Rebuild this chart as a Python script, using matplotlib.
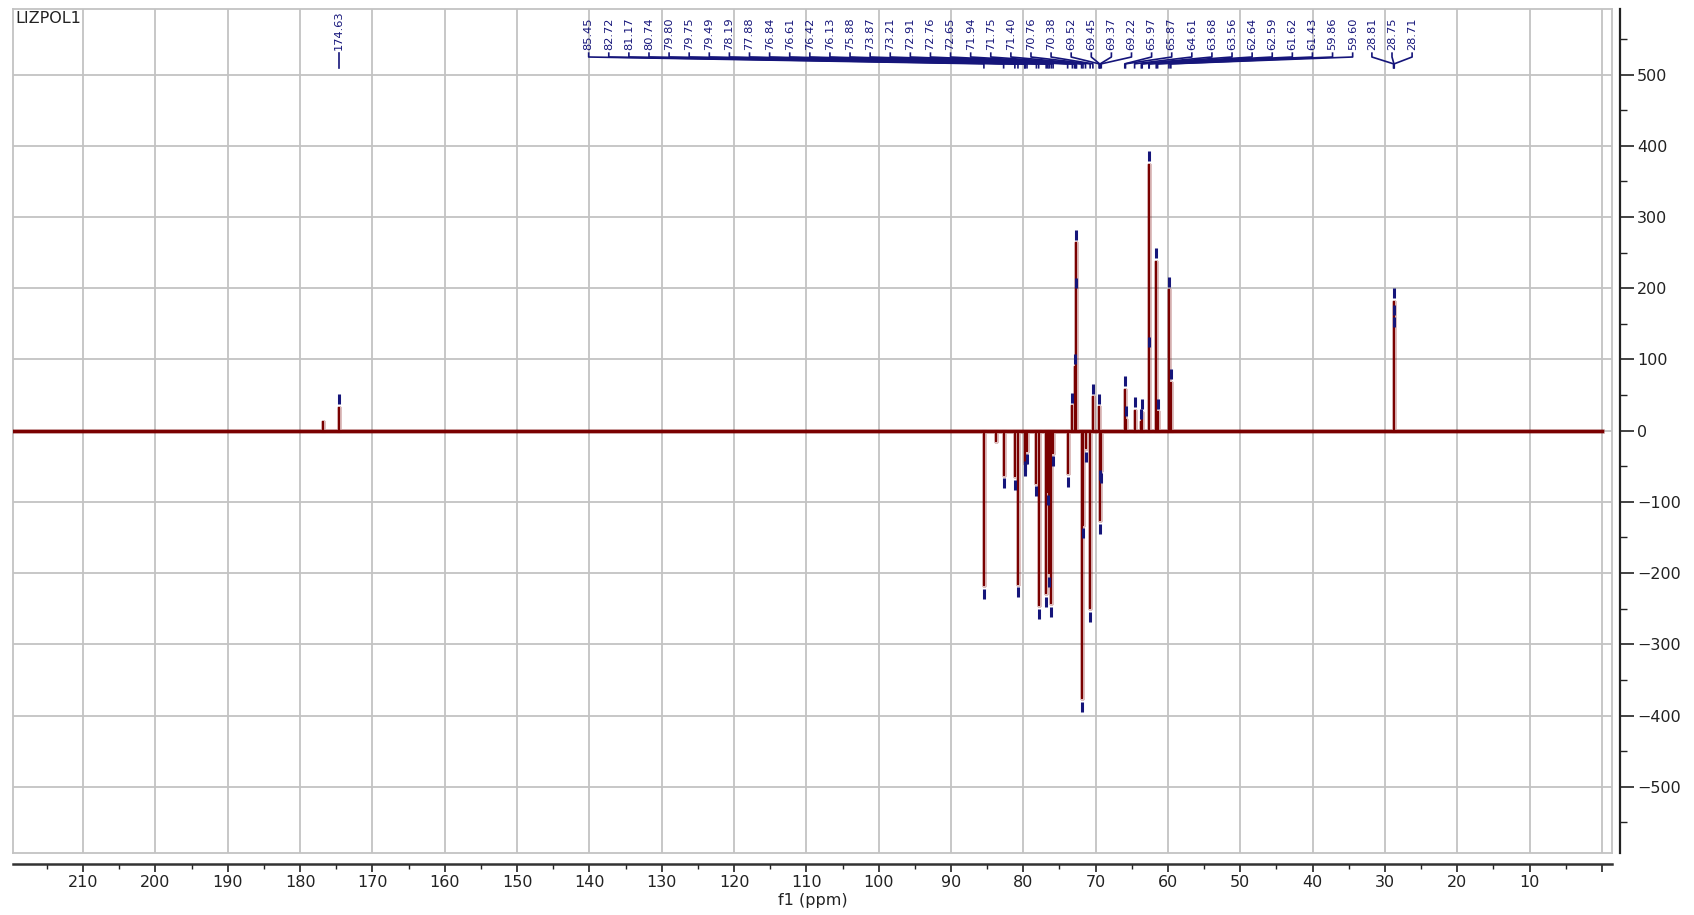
import numpy as np
import matplotlib
matplotlib.use("Agg")
from matplotlib import pyplot as plt
from matplotlib.ticker import MultipleLocator

plt.rcParams["font.family"] = ["DejaVu Sans"]

sample_name = "LIZPOL1"
x_title = "f1 (ppm)"

# spectral window (ppm)
spec_left = 219.7
spec_right = 0.0

# picked peaks (ppm) and their intensities
peak_ppm = [174.63,
            85.45, 82.72, 81.17, 80.74, 79.80, 79.75, 79.49, 78.19, 77.88, 76.84,
            76.61, 76.42, 76.13, 75.88, 73.87, 73.21, 72.91, 72.76, 72.65, 71.94,
            71.75, 71.40, 70.76, 70.38, 69.52, 69.45, 69.37, 69.22, 65.97, 65.87,
            64.61, 63.68, 63.56, 62.64, 62.59, 61.62, 61.43, 59.86, 59.60,
            28.81, 28.75, 28.71]
peak_int = [32,
            -217, -62, -64, -215, -38, -45, -28, -73, -245, -228,
            -86, -200, -242, -31, -60, 34, 89, 263, 195, -376,
            -132, -25, -249, 47, 33, -50, -126, -55, 57, 15,
            28, 12, 25, 373, 113, 237, 26, 197, 67,
            157, 181, 140]

# small unlabelled signals
minor_ppm = [176.9, 83.8]
minor_int = [12, -15]

# how the peak labels are grouped at the top
label_groups = [1, 39, 3]

x_ticks = list(range(0, 220, 10))
y_ticks = list(range(-500, 600, 100))

red = "#7a0000"
navy = "#15157a"
grid_grey = "#c3c3c3"

fig = plt.figure(figsize=(16.94, 9.15), dpi=100)
ax = fig.add_axes([13 / 1694, 1 - 853 / 915, (1612 - 13) / 1694, (853 - 9) / 915])

# spectrum drawn as sticks on the baseline
pts = sorted(zip(peak_ppm + minor_ppm, peak_int + minor_int), key=lambda p: -p[0])
xs, ys = [spec_left], [0]
for p, h in pts:
    xs += [p, p, p]
    ys += [0, h, 0]
xs.append(spec_right)
ys.append(0)
ax.plot(xs, ys, color=red, lw=3.5, alpha=0.25, zorder=3)
ax.plot(xs, ys, color=red, lw=1.5, zorder=4)
ax.plot([spec_left, spec_right], [0, 0], color=red, lw=2.4, zorder=4)

# peak pick markers
for p, h in zip(peak_ppm, peak_int):
    ax.plot(p, h + np.sign(h) * 12, marker="|", ms=6.5, mew=2.2, color=navy, zorder=5)

# peak labels with connector lines
y_txt, y_a, y_b, y_c, y_d = 534, 530, 524.6, 515, 509.5
step = 2.78
starts = [None, 140.1, 31.8]
i0 = 0
for g, n in enumerate(label_groups):
    group = peak_ppm[i0:i0 + n]
    for k, p in enumerate(group):
        slot = p if starts[g] is None else starts[g] - k * step
        ax.text(slot, y_txt, "%.2f" % p, rotation=90, ha="center", va="bottom",
                fontsize=8.2, color=navy, zorder=6)
        ax.plot([slot, slot, p, p], [y_a, y_b, y_c, y_d], color=navy, lw=1.2,
                zorder=6, clip_on=False)
    i0 += n

ax.set_xlim(spec_left, -1.4)
ax.set_ylim(-593, 592)

ax.set_xticks(x_ticks)
ax.set_xticklabels(["" if t == 0 else str(t) for t in x_ticks])
ax.xaxis.set_minor_locator(MultipleLocator(5))
ax.set_yticks(y_ticks)
ax.yaxis.set_minor_locator(MultipleLocator(50))
ax.yaxis.tick_right()
ax.grid(True, which="major", color=grid_grey, lw=1.3, zorder=0)
ax.set_axisbelow(True)

ax.tick_params(axis="x", which="major", direction="out", length=6, width=1.2,
               pad=2, labelsize=11.5, colors="#222222")
ax.tick_params(axis="x", which="minor", direction="out", length=3.5, width=1.0, colors="#222222")
ax.tick_params(axis="y", which="major", direction="out", length=10, width=1.2,
               pad=2, labelsize=11.5, colors="#222222")
ax.tick_params(axis="y", which="minor", direction="out", length=5, width=1.0, colors="#222222")

for s in ["left", "top"]:
    ax.spines[s].set_color(grid_grey)
    ax.spines[s].set_linewidth(1.3)
ax.spines["right"].set_position(("outward", 6))
ax.spines["bottom"].set_position(("outward", 8))
ax.spines["right"].set_color("#222222")
ax.spines["bottom"].set_color("#333333")
ax.spines["right"].set_linewidth(1.6)
ax.spines["bottom"].set_linewidth(1.8)
# grey frame on the right and bottom of the plot box
ax.plot([1, 0], [0, 0], transform=ax.transAxes, color=grid_grey, lw=1.3, clip_on=False)
ax.plot([1, 1], [0, 1], transform=ax.transAxes, color=grid_grey, lw=1.3, clip_on=False)

ax.text(2 / 1599, 1 - 2 / 844, sample_name, transform=ax.transAxes, ha="left", va="top",
        fontsize=11.5, color="#222222")
fig.text(813 / 1694, 1 - 900 / 915, x_title, ha="center", va="center", fontsize=11.5,
         color="#222222")

fig.savefig("out.png", dpi=100)
